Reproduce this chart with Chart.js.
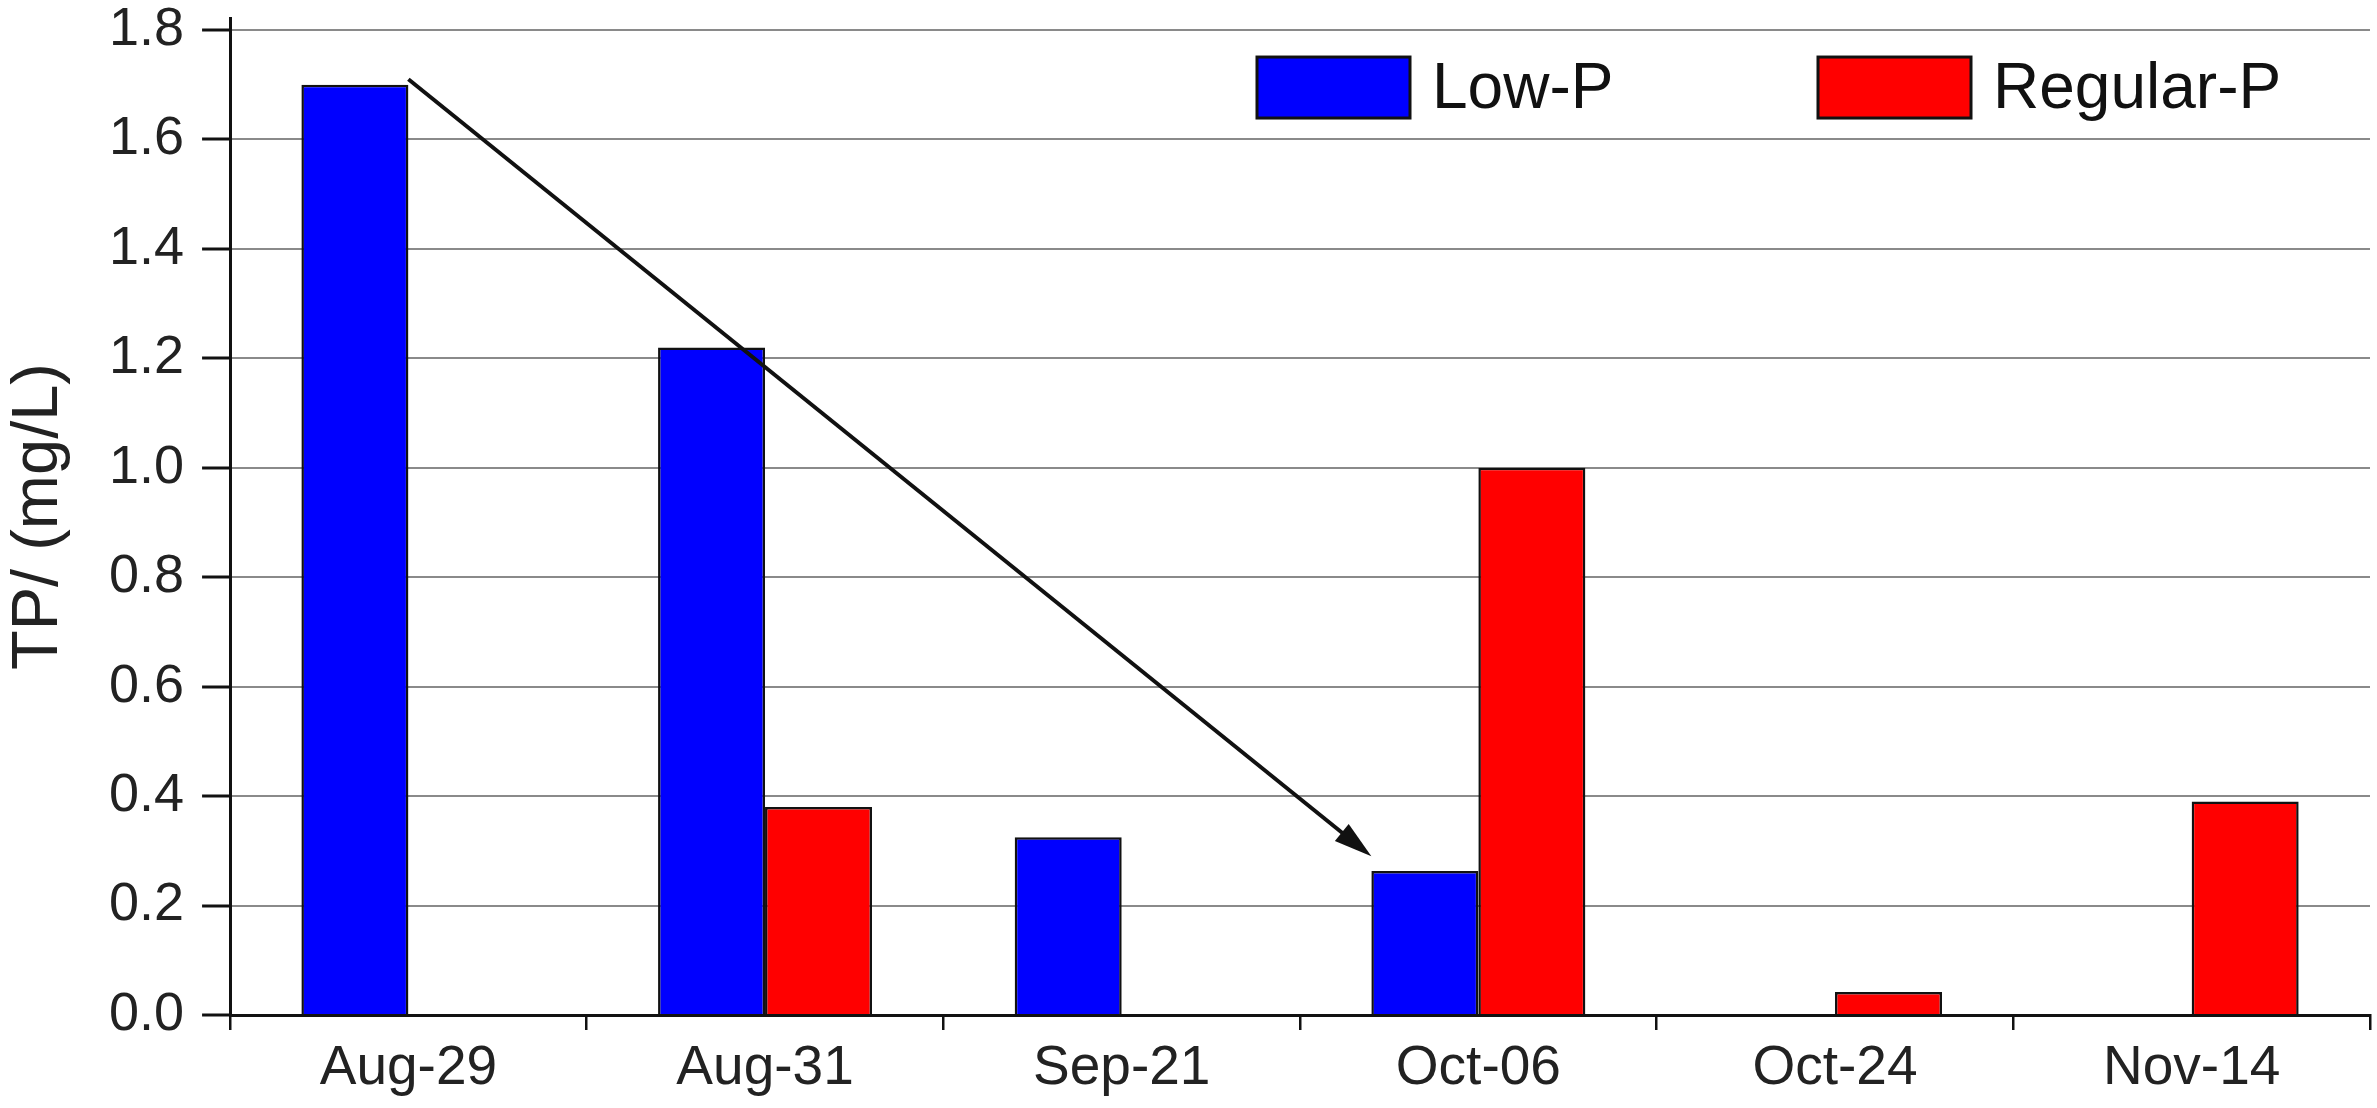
<!DOCTYPE html>
<html>
<head>
<meta charset="utf-8">
<script src="https://cdn.jsdelivr.net/npm/chart.js@4.4.0/dist/chart.umd.min.js"></script>
<style>
  html, body { margin: 0; padding: 0; background: #fff; }
  #wrap { width: 2377px; height: 1108px; }
</style>
</head>
<body>
<div id="wrap"><canvas id="tpchart"></canvas></div>
<script>
// data
const dates = ["Aug-29", "Aug-31", "Sep-21", "Oct-06", "Oct-24", "Nov-14"];
const lowP = [1.70, 1.22, 0.325, 0.263, null, null];
const regularP = [null, 0.38, null, 1.00, 0.042, 0.39];
const yStep = 0.2;
const yTop = 1.8;

// arrow annotation: from top of Aug-29 Low-P bar down to Oct-06
const arrowFrom = { index: 0, value: 1.71 };
const arrowTo = { index: 3, value: 0.29, shift: -0.3 };

const FONT = "'Liberation Sans', Arial, sans-serif";

// legend drawn inside the plot, like the original figure
const insideLegend = {
  id: "insideLegend",
  afterDraw(chart) {
    const ctx = chart.ctx;
    const area = chart.chartArea;
    const boxes = [area.right - 1113, area.right - 552];
    const y = chart.scales.y.getPixelForValue(yTop) + 27;
    ctx.save();
    chart.data.datasets.forEach((ds, i) => {
      const x = boxes[i];
      ctx.fillStyle = ds.backgroundColor;
      ctx.fillRect(x, y, 153, 61);
      ctx.lineWidth = 3;
      ctx.strokeStyle = "#111";
      ctx.strokeRect(x, y, 153, 61);
      ctx.fillStyle = "#111";
      ctx.font = "64px " + FONT;
      ctx.textBaseline = "middle";
      ctx.fillText(ds.label, x + 175, y + 33);
    });
    ctx.restore();
  }
};

const arrowPlugin = {
  id: "arrow",
  afterDatasetsDraw(chart) {
    const xs = chart.scales.x, ys = chart.scales.y;
    const cat = xs.getPixelForValue(1) - xs.getPixelForValue(0);
    const bar = chart.getDatasetMeta(0).data[arrowFrom.index];
    const x1 = bar.x + bar.width / 2;
    const y1 = ys.getPixelForValue(arrowFrom.value);
    const x2 = xs.getPixelForValue(arrowTo.index) + arrowTo.shift * cat;
    const y2 = ys.getPixelForValue(arrowTo.value);
    const ang = Math.atan2(y2 - y1, x2 - x1);
    const len = 38, half = 11;
    const ctx = chart.ctx;
    ctx.save();
    ctx.strokeStyle = "#111";
    ctx.fillStyle = "#111";
    ctx.lineWidth = 4;
    ctx.beginPath();
    ctx.moveTo(x1, y1);
    ctx.lineTo(x2 - Math.cos(ang) * len * 0.8, y2 - Math.sin(ang) * len * 0.8);
    ctx.stroke();
    ctx.beginPath();
    ctx.moveTo(x2, y2);
    ctx.lineTo(x2 - Math.cos(ang) * len - Math.sin(ang) * half, y2 - Math.sin(ang) * len + Math.cos(ang) * half);
    ctx.lineTo(x2 - Math.cos(ang) * len + Math.sin(ang) * half, y2 - Math.sin(ang) * len - Math.cos(ang) * half);
    ctx.closePath();
    ctx.fill();
    ctx.restore();
  }
};

new Chart(document.getElementById("tpchart"), {
  type: "bar",
  data: {
    labels: dates,
    datasets: [
      {
        label: "Low-P",
        data: lowP,
        backgroundColor: "#0000ff",
        borderColor: "#111",
        borderWidth: 2.5,
        categoryPercentage: 0.6,
        barPercentage: 1.0,
      },
      {
        label: "Regular-P",
        data: regularP,
        backgroundColor: "#ff0000",
        borderColor: "#111",
        borderWidth: 2.5,
        categoryPercentage: 0.6,
        barPercentage: 1.0,
      },
    ],
  },
  options: {
    responsive: true,
    maintainAspectRatio: false,
    animation: false,
    layout: { padding: { top: 0, right: 7, bottom: 0, left: 0 } },
    plugins: {
      legend: { display: false },
      tooltip: { enabled: false },
    },
    scales: {
      x: {
        offset: true,
        grid: {
          offset: true,
          drawOnChartArea: false,
          color: "#111",
          lineWidth: 2.5,
          tickLength: 15,
        },
        border: { color: "#111", width: 3 },
        ticks: {
          color: "#222",
          padding: 6,
          font: { family: FONT, size: 55 },
        },
      },
      y: {
        min: 0,
        max: yTop + 0.022,
        afterBuildTicks(axis) {
          const out = [];
          for (let v = 0; v <= yTop + 1e-9; v += yStep) out.push({ value: +v.toFixed(2) });
          axis.ticks = out;
        },
        grid: {
          color: "#8a8a8a",
          lineWidth: 2,
          tickColor: "#111",
          tickWidth: 3,
          tickLength: 28,
        },
        border: { color: "#111", width: 3 },
        ticks: {
          color: "#222",
          padding: 18,
          font: { family: FONT, size: 54, lineHeight: "0px" },
          callback: (v) => Number(v).toFixed(1),
        },
        title: {
          display: true,
          text: "TP/ (mg/L)",
          color: "#222",
          font: { family: FONT, size: 65 },
          padding: { top: 0, bottom: 13 },
        },
      },
    },
  },
  plugins: [arrowPlugin, insideLegend],
});
</script>
</body>
</html>
